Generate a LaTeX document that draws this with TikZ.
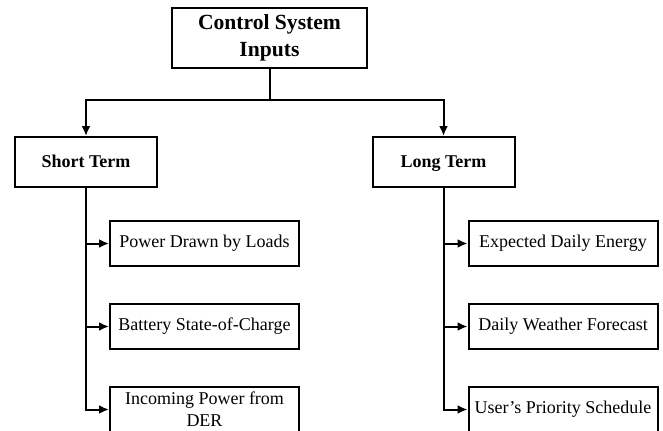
\documentclass[tikz,border=0pt]{standalone}
\usepackage{fontspec}
\setmainfont{Liberation Serif}
\usepackage{tikz}
\usetikzlibrary{positioning}
\usetikzlibrary{shapes,backgrounds,arrows.meta}
\tikzstyle{line} = [draw, line width=1pt, -{Latex[length=5pt, width=4.5pt]}]
\tikzstyle{topbox} = [draw, line width=1pt, minimum width=97.5pt, minimum height=29pt, align=center, font=\fontsize{10.8}{13.5}\selectfont\bfseries]
\tikzstyle{termbox} = [draw, line width=1pt, minimum width=71pt, minimum height=25pt, text height=1.5ex, text depth=.25ex, font=\fontsize{9}{10}\selectfont\bfseries]
\tikzstyle{inbox} = [draw, line width=1pt, minimum width=94.5pt, minimum height=22.5pt, inner sep=1pt, align=center, font=\fontsize{9}{11}\selectfont]

\begin{document}
\begin{tikzpicture}[x=0.5pt, y=-0.5pt]
	\useasboundingbox (0, 0) rectangle (663, 430);

	\node[topbox] (inputs) at (269.5, 38) {Control System\\Inputs};
	\coordinate (split) at (269.5, 100);

	\node[termbox] (short) at (86, 162) {Short Term};
	\node[termbox] (long) at (443.5, 162) {Long Term};

	\node[inbox] (loads) at (204.5, 243.5) {Power Drawn by Loads};
	\node[inbox] (soc) at (204.5, 326.5) {Battery State-of-Charge};
	\node[inbox] (der) at (204.5, 409.5) {Incoming Power from\\DER};

	\node[inbox] (energy) at (563, 243.5) {Expected Daily Energy};
	\node[inbox] (weather) at (563, 326.5) {Daily Weather Forecast};
	\node[inbox] (priority) at (563, 409.5) {User's Priority Schedule};

	\draw[line width=1pt] (inputs) -- (split);
	\path[line] (split) -| (short);
	\path[line] (split) -| (long);

	\path[line] (short.south) |- (loads.west);
	\path[line] (short.south) |- (soc.west);
	\path[line] (short.south) |- (der.west);

	\path[line] (long.south) |- (energy.west);
	\path[line] (long.south) |- (weather.west);
	\path[line] (long.south) |- (priority.west);
\end{tikzpicture}
\end{document}
